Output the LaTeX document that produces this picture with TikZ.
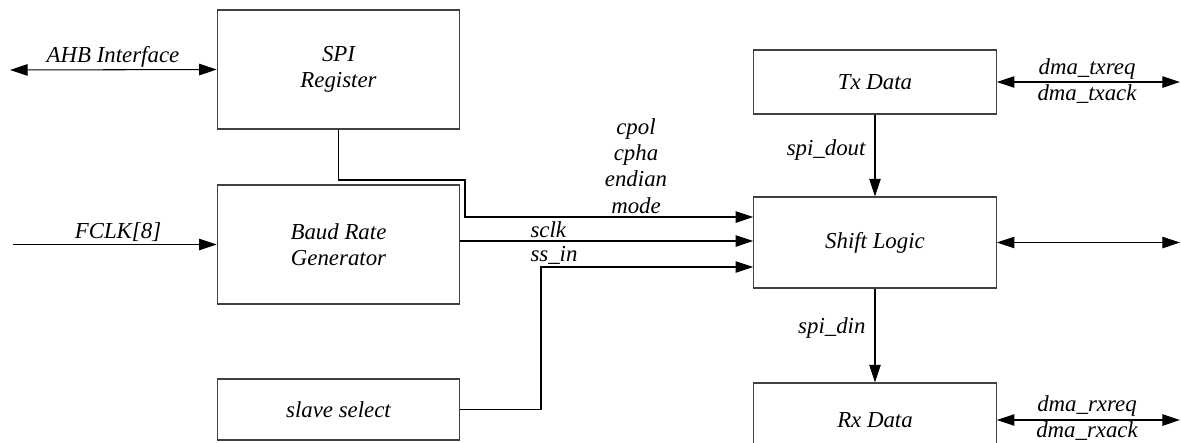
\documentclass[tikz,border=0pt]{standalone}
\usepackage{fontspec}
\setmainfont{Liberation Serif}
\usetikzlibrary{arrows.meta}

\begin{document}
\begin{tikzpicture}[x=0.02cm,y=-0.02cm,line width=0.6pt,
blk/.style={draw=black!75, fill=white, minimum width=4.85cm, inner sep=1pt, align=center, font=\fontsize{13}{15}\selectfont\itshape},
lab/.style={inner sep=0pt, align=center, font=\fontsize{13}{15}\selectfont\itshape},
sig/.style={-{Triangle[length=10pt,width=6.5pt]}},
bus/.style={{Triangle[length=10pt,width=6.5pt]}-{Triangle[length=10pt,width=6.5pt]}}]
	\useasboundingbox (0,0) rectangle (1181,443);

	\node[blk, minimum height=2.38cm] at (338.5,69.5) (reg) {SPI\\Register};
	\node[blk, minimum height=2.38cm] at (338.5,244.5) (baud) {Baud Rate\\Generator};
	\node[blk, minimum height=1.22cm] at (338.5,409.5) (ss) {slave select};
	\node[blk, minimum height=1.28cm] at (875,82) (tx) {Tx Data};
	\node[blk, minimum height=1.82cm] at (875,242.5) (shift) {Shift Logic};
	\node[blk, minimum height=1.48cm] at (875,420) (rx) {Rx Data};

	\coordinate (ahb) at (10,70);
	\coordinate (fclk) at (13,244.5);
	\coordinate (k1) at (465,180);
	\coordinate (k2) at (541,300);
	\coordinate (cfg) at ([yshift=0.51cm]shift.west);
	\coordinate (sck) at ([yshift=0.03cm]shift.west);
	\coordinate (sin) at ([yshift=-0.49cm]shift.west);
	\coordinate (txo) at (1180,82);
	\coordinate (sho) at (1180,242.5);
	\coordinate (rxo) at (1180,420);

	\draw[bus] (ahb) -- (reg.west);
	\draw[sig] (fclk) -- (baud.west);
	\draw[sig] (reg.south) |- (k1) |- (cfg);
	\draw[sig] (sck -| baud.east) -- (sck);
	\draw[sig] (ss.east) -| (k2 |- sin) -- (sin);
	\draw[sig] (tx.south) -- (shift.north);
	\draw[sig] (shift.south) -- (rx.north);
	\draw[bus] (tx.east) -- (txo);
	\draw[bus] (shift.east) -- (sho);
	\draw[bus] (rx.east) -- (rxo);

	\node[lab, anchor=base] at (113,62) (ahbl) {AHB Interface};
	\node[lab, anchor=base] at (118,238) (fclkl) {FCLK[8]};
	\node[lab] at (636,166) (cfgl) {cpol\\cpha\\endian\\mode};
	\node[lab, anchor=base west] at (530,237) (sckl) {sclk};
	\node[lab, anchor=base west] at (530,261) (sinl) {ss\_in};
	\node[lab, anchor=base east] at (866,155) (doutl) {spi\_dout};
	\node[lab, anchor=base east] at (866,333) (dinl) {spi\_din};
	\node[lab, anchor=base] at (1087,74) (txrq) {dma\_txreq};
	\node[lab, anchor=base] at (1087,100) (txak) {dma\_txack};
	\node[lab, anchor=base] at (1087,411) (rxrq) {dma\_rxreq};
	\node[lab, anchor=base] at (1087,437) (rxak) {dma\_rxack};
\end{tikzpicture}
\end{document}
